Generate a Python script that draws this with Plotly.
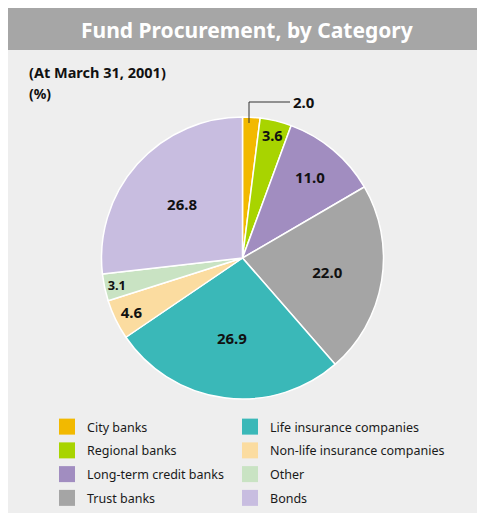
import plotly.graph_objects as go

# figure sits inside the page's 8px body margin
OFF = 8
W, H = 477, 505

categories = ["City banks", "Regional banks", "Long-term credit banks", "Trust banks",
              "Life insurance companies", "Non-life insurance companies", "Other", "Bonds"]
values = [2.0, 3.6, 11.0, 22.0, 26.9, 4.6, 3.1, 26.8]
colors = ["#f2b900", "#a8d400", "#a18dc0", "#a5a5a5",
          "#3ab8b8", "#fbdca0", "#c9e3c3", "#c8bde0"]

title_text = "Fund Procurement, by Category"
subtitle = "(At March 31, 2001)"
unit = "(%)"

FONT = "Noto Sans"

def px(x):
    return (x - OFF) / W

def py(y):
    return 1 - (y - OFF) / H

labels_inside = ["" if i == 0 else f"{v:.1f}" for i, v in enumerate(values)]

fig = go.Figure()
fig.add_trace(go.Pie(
    labels=categories, values=values, sort=False, direction="clockwise", rotation=0,
    marker=dict(colors=colors, line=dict(color="white", width=1.5)),
    text=labels_inside, textinfo="text", textposition="inside",
    insidetextorientation="horizontal",
    textfont=dict(family=FONT, size=15, color="#111111", weight="bold"),
    domain=dict(x=[px(101.5), px(383.5)], y=[py(399), py(117)]),
    showlegend=False, hoverinfo="label+value",
))

# legend entries (two columns)
for i, (c, col) in enumerate(zip(categories, colors)):
    fig.add_trace(go.Scatter(
        x=[None], y=[None], mode="markers", name=c, legendgroup=c,
        marker=dict(symbol="square", size=17, color=col, line=dict(width=0)),
        legend="legend" if i < 4 else "legend2", showlegend=True,
    ))

legend_common = dict(
    font=dict(family=FONT, size=12.5, color="#1a1a1a"),
    bgcolor="rgba(0,0,0,0)", orientation="v", xanchor="left", yanchor="top",
    tracegroupgap=4.5, itemclick=False, itemdoubleclick=False,
)

fig.update_layout(
    width=W, height=H,
    margin=dict(l=0, r=0, t=0, b=0),
    paper_bgcolor="#eeeeee", plot_bgcolor="rgba(0,0,0,0)",
    xaxis=dict(visible=False), yaxis=dict(visible=False),
    legend=dict(x=px(47), y=py(412), **legend_common),
    legend2=dict(x=px(230), y=py(412), **legend_common),
    shapes=[
        dict(type="rect", xref="paper", yref="paper", x0=0, x1=1, y0=py(50), y1=1,
             fillcolor="#a6a6a6", line=dict(width=0), layer="below"),
        dict(type="path", xref="paper", yref="paper",
             path=f"M {px(249)},{py(123)} L {px(249)},{py(102)} L {px(290)},{py(102)}",
             line=dict(color="#333333", width=1)),
    ],
    annotations=[
        dict(text=title_text, x=px(246.5), y=py(30), xref="paper", yref="paper",
             showarrow=False, xanchor="center", yanchor="middle",
             font=dict(family=FONT, size=21, color="white", weight="bold")),
        dict(text=subtitle, x=px(27), y=py(72), xref="paper", yref="paper",
             showarrow=False, xanchor="left", yanchor="middle",
             font=dict(family=FONT, size=14.5, color="#111111", weight="bold")),
        dict(text=unit, x=px(27), y=py(93), xref="paper", yref="paper",
             showarrow=False, xanchor="left", yanchor="middle",
             font=dict(family=FONT, size=14, color="#111111", weight="bold")),
        dict(text=f"{values[0]:.1f}", x=px(291), y=py(102), xref="paper", yref="paper",
             showarrow=False, xanchor="left", yanchor="middle",
             font=dict(family=FONT, size=15, color="#111111", weight="bold")),
    ],
)

fig.write_html("out.html")
